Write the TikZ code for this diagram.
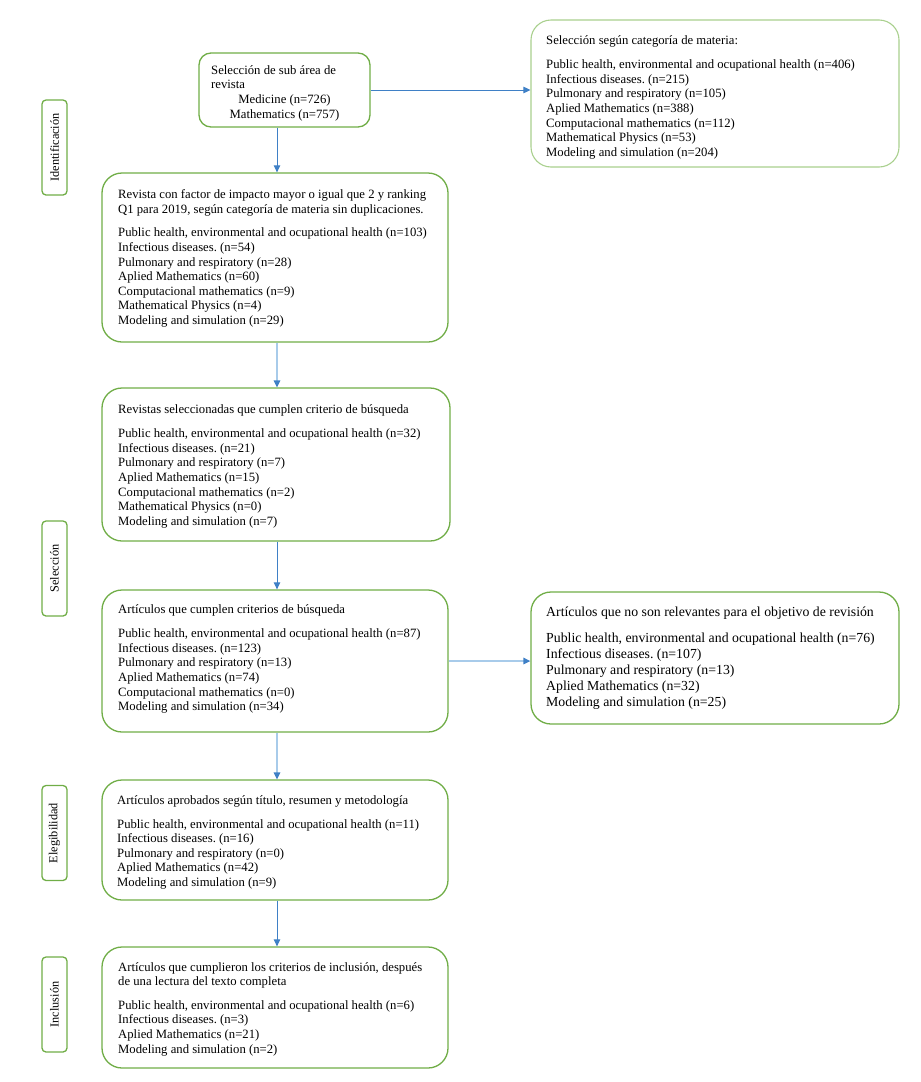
\documentclass[tikz,border=0pt]{standalone}
\usepackage{fontspec}
\setmainfont{Liberation Serif}
\usetikzlibrary{arrows.meta}
\definecolor{bgreen}{HTML}{70AD47}
\definecolor{lgreen}{HTML}{A9D08E}
\definecolor{ablue}{HTML}{3F80C6}
\definecolor{lblue}{HTML}{A8CBEA}
\frenchspacing
\tikzset{
  box/.style={draw=bgreen, line width=1.3pt, rounded corners=20pt, inner sep=0pt},
  lbox/.style={draw=lgreen, line width=1.1pt, rounded corners=20pt, inner sep=0pt},
  sbox/.style={draw=bgreen, line width=1.3pt, rounded corners=12pt, inner sep=0pt},
  side/.style={draw=bgreen, line width=1.3pt, rounded corners=4pt, inner sep=0pt,
    minimum width=25pt, minimum height=95pt},
  sidetxt/.style={rotate=90, font=\fontsize{12.3}{14}\selectfont},
  txt/.style={anchor=north west, inner sep=0pt, align=left,
    font=\fontsize{12.7}{14.6}\selectfont\frenchspacing},
  txtbig/.style={anchor=north west, inner sep=0pt, align=left,
    font=\fontsize{13.8}{16}\selectfont\frenchspacing},
  arr/.style={draw=ablue, line width=0.8pt, -{Triangle[length=7pt,width=6.5pt]}},
  larr/.style={draw=lblue, line width=1.4pt, -{Triangle[length=7pt,width=6.5pt,color=ablue]}}
}
\begin{document}
\begin{tikzpicture}[x=1pt,y=-1pt]
\useasboundingbox (0,0) rectangle (921,1082);
% side labels
\node[side] (s1) at (54.5,147.5) {};
\node[sidetxt] (s1t) at (s1.center) {Identificación};
\node[side] (s2) at (54.5,568.5) {};
\node[sidetxt] (s2t) at (s2.center) {Selección};
\node[side] (s3) at (54.5,833) {};
\node[sidetxt] (s3t) at (s3.center) {Elegibilidad};
\node[side] (s4) at (54.5,1004.5) {};
\node[sidetxt] (s4t) at (s4.center) {Inclusión};
% box 1
\node[sbox, minimum width=171pt, minimum height=74pt] (b1) at (284.5,90) {};
\node[txt] (b1h) at (211,65) {Selección de sub área de\\revista};
\node[anchor=north, inner sep=0pt, align=center, font=\fontsize{12.7}{14.6}\selectfont] (b1c) at (284.5,94.5) {Medicine (n=726)\\Mathematics (n=757)};
% right top
\node[lbox, minimum width=368pt, minimum height=147pt] (rt) at (715,93.5) {};
\node[txt] (rtt) at (546,35) {Selección según categoría de materia:\\[10pt]
Public health, environmental and ocupational health (n=406)\\
Infectious diseases. (n=215)\\
Pulmonary and respiratory (n=105)\\
Aplied Mathematics (n=388)\\
Computacional mathematics (n=112)\\
Mathematical Physics (n=53)\\
Modeling and simulation (n=204)};
% box 3
\node[box, minimum width=346pt, minimum height=169pt] (b3) at (275,257.5) {};
\node[txt] (b3t) at (118,189.5) {Revista con factor de impacto mayor o igual que 2 y ranking\\
Q1 para 2019, según categoría de materia sin duplicaciones.\\[9pt]
Public health, environmental and ocupational health (n=103)\\
Infectious diseases. (n=54)\\
Pulmonary and respiratory (n=28)\\
Aplied Mathematics (n=60)\\
Computacional mathematics (n=9)\\
Mathematical Physics (n=4)\\
Modeling and simulation (n=29)};
% box 4
\node[box, minimum width=348pt, minimum height=153pt] (b4) at (276,464.5) {};
\node[txt] (b4t) at (118,404) {Revistas seleccionadas que cumplen criterio de búsqueda\\[10pt]
Public health, environmental and ocupational health (n=32)\\
Infectious diseases. (n=21)\\
Pulmonary and respiratory (n=7)\\
Aplied Mathematics (n=15)\\
Computacional mathematics (n=2)\\
Mathematical Physics (n=0)\\
Modeling and simulation (n=7)};
% box 5
\node[box, minimum width=346pt, minimum height=142pt] (b5) at (275,661) {};
\node[txt] (b5t) at (118,604) {Artículos que cumplen criterios de búsqueda\\[10pt]
Public health, environmental and ocupational health (n=87)\\
Infectious diseases. (n=123)\\
Pulmonary and respiratory (n=13)\\
Aplied Mathematics (n=74)\\
Computacional mathematics (n=0)\\
Modeling and simulation (n=34)};
% right box 6
\node[box, minimum width=368pt, minimum height=132pt] (b6) at (715,658) {};
\node[txtbig] (b6t) at (546,606.5) {Artículos que no son relevantes para el objetivo de revisión\\[10.5pt]
Public health, environmental and ocupational health (n=76)\\
Infectious diseases. (n=107)\\
Pulmonary and respiratory (n=13)\\
Aplied Mathematics (n=32)\\
Modeling and simulation (n=25)};
% box 7
\node[box, minimum width=346pt, minimum height=120pt] (b7) at (275,840) {};
\node[txt] (b7t) at (117,795) {Artículos aprobados según título, resumen y metodología\\[9.5pt]
Public health, environmental and ocupational health (n=11)\\
Infectious diseases. (n=16)\\
Pulmonary and respiratory (n=0)\\
Aplied Mathematics (n=42)\\
Modeling and simulation (n=9)};
% box 8
\node[box, minimum width=346pt, minimum height=121pt] (b8) at (275,1007.5) {};
\node[txt] (b8t) at (118,962) {Artículos que cumplieron los criterios de inclusión, después\\
de una lectura del texto completa\\[9pt]
Public health, environmental and ocupational health (n=6)\\
Infectious diseases. (n=3)\\
Aplied Mathematics (n=21)\\
Modeling and simulation (n=2)};
% arrows
\coordinate (ax) at (277,0);
\draw[arr] (b1.east) -- (b1.east -| rt.west);
\draw[arr] (b1.south -| ax) -- (b3.north -| ax);
\draw[larr] (b3.south -| ax) -- (b4.north -| ax);
\draw[arr] (b4.south -| ax) -- (b5.north -| ax);
\draw[larr] (b5.south -| ax) -- (b7.north -| ax);
\draw[larr] (b5.east) -- (b5.east -| b6.west);
\draw[arr] (b7.south -| ax) -- (b8.north -| ax);
\end{tikzpicture}
\end{document}
